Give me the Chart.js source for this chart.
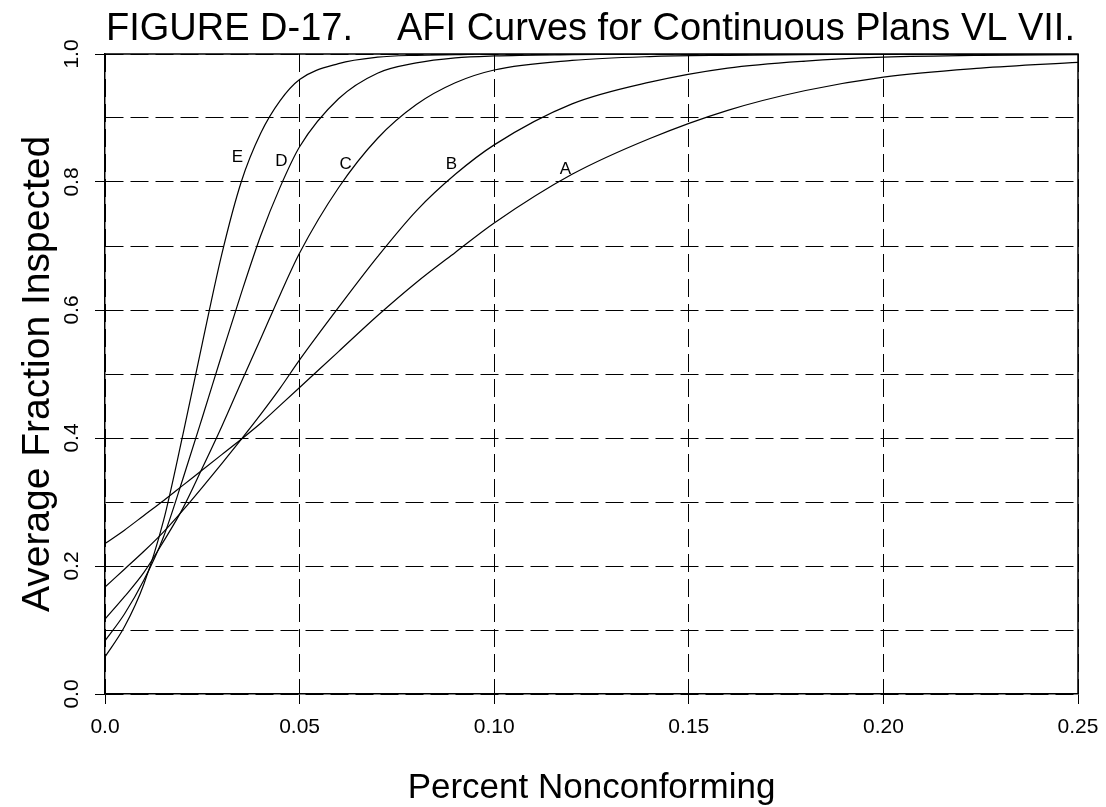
<!DOCTYPE html>
<html>
<head>
<meta charset="utf-8">
<script src="https://cdn.jsdelivr.net/npm/chart.js@4/dist/chart.umd.min.js"></script>
<style>
html,body{margin:0;padding:0;background:#fff;}
#wrap{width:1106px;height:807px;position:relative;}
</style>
</head>
<body>
<div id="wrap"><canvas id="c" width="1106" height="807"></canvas></div>
<script>
// ---- data ----
const xValues = [0, 0.005, 0.01, 0.015, 0.02, 0.025, 0.03, 0.035, 0.04, 0.045, 0.05, 0.06, 0.07, 0.08, 0.09, 0.10, 0.12, 0.14, 0.16, 0.18, 0.20, 0.225, 0.25];
const curveA = [0.235, 0.256, 0.279, 0.302, 0.326, 0.350, 0.374, 0.398, 0.423, 0.451, 0.479, 0.535, 0.591, 0.643, 0.690, 0.736, 0.812, 0.868, 0.912, 0.943, 0.964, 0.978, 0.987];
const curveB = [0.167, 0.195, 0.223, 0.253, 0.287, 0.323, 0.360, 0.398, 0.437, 0.478, 0.522, 0.604, 0.683, 0.755, 0.812, 0.858, 0.922, 0.956, 0.978, 0.989, 0.995, 0.998, 0.999];
const curveC = [0.117, 0.152, 0.190, 0.238, 0.290, 0.353, 0.418, 0.487, 0.555, 0.624, 0.689, 0.791, 0.868, 0.921, 0.955, 0.975, 0.990, 0.996, 0.998, 0.999, 1.0, 1.0, 1.0];
const curveD = [0.083, 0.125, 0.178, 0.245, 0.336, 0.432, 0.530, 0.626, 0.716, 0.792, 0.855, 0.930, 0.970, 0.986, 0.994, 0.997, 0.999, 1.0, 1.0, 1.0, 1.0, 1.0, 1.0];
const curveE = [0.058, 0.105, 0.172, 0.270, 0.405, 0.548, 0.687, 0.800, 0.876, 0.927, 0.960, 0.985, 0.995, 0.998, 0.999, 1.0, 1.0, 1.0, 1.0, 1.0, 1.0, 1.0, 1.0];
const curveNames = ['A', 'B', 'C', 'D', 'E'];
const labelX = [0.1183, 0.0890, 0.0618, 0.0453, 0.0340];
const labelY = [0.820, 0.828, 0.828, 0.833, 0.839];
const xTickValues = [0, 0.05, 0.10, 0.15, 0.20, 0.25];
const xTickLabels = ['0.0', '0.05', '0.10', '0.15', '0.20', '0.25'];
const yTickValues = [0, 0.2, 0.4, 0.6, 0.8, 1.0];
const yTickLabels = ['0.0', '0.2', '0.4', '0.6', '0.8', '1.0'];
const titleLeft = 'FIGURE D-17.';
const titleRight = 'AFI Curves for Continuous Plans VL VII.';
const xTitle = 'Percent Nonconforming';
const yTitle = 'Average Fraction Inspected';

const FONT = '"Liberation Sans", Arial, Helvetica, sans-serif';
const allCurves = [curveA, curveB, curveC, curveD, curveE];

const datasets = allCurves.map((arr, i) => ({
  label: curveNames[i],
  data: xValues.map((x, j) => ({x: x, y: arr[j]})),
  borderColor: '#000',
  borderWidth: 1.2,
  pointRadius: 0,
  fill: false,
  cubicInterpolationMode: 'monotone'
}));

const textPlugin = {
  id: 'texts',
  afterDraw(chart) {
    const ctx = chart.ctx;
    const xs = chart.scales.x, ys = chart.scales.y;
    const a = chart.chartArea;
    ctx.save();
    // solid frame top and right
    ctx.strokeStyle = '#000';
    ctx.lineWidth = 1.5;
    ctx.setLineDash([]);
    ctx.beginPath();
    ctx.moveTo(a.left, a.top); ctx.lineTo(a.right, a.top); ctx.lineTo(a.right, a.bottom);
    ctx.stroke();
    ctx.fillStyle = '#000';
    // title
    ctx.font = '38px ' + FONT;
    ctx.textAlign = 'left';
    ctx.textBaseline = 'alphabetic';
    ctx.fillText(titleLeft, 106, 40);
    ctx.fillText(titleRight, 397, 40);
    // x tick labels
    ctx.font = '21px ' + FONT;
    ctx.textAlign = 'center';
    ctx.textBaseline = 'middle';
    xTickValues.forEach((v, i) => ctx.fillText(xTickLabels[i], xs.getPixelForValue(v), 727));
    // y tick labels rotated
    yTickValues.forEach((v, i) => {
      ctx.save();
      ctx.translate(72, ys.getPixelForValue(v));
      ctx.rotate(-Math.PI / 2);
      ctx.fillText(yTickLabels[i], 0, 0);
      ctx.restore();
    });
    // axis titles
    ctx.font = '35px ' + FONT;
    ctx.textBaseline = 'alphabetic';
    ctx.fillText(xTitle, (a.left + a.right) / 2, 798);
    ctx.font = '39px ' + FONT;
    ctx.save();
    ctx.translate(49, (a.top + a.bottom) / 2);
    ctx.rotate(-Math.PI / 2);
    ctx.fillText(yTitle, 0, 0);
    ctx.restore();
    // curve letters
    ctx.font = '17px ' + FONT;
    ctx.textBaseline = 'middle';
    curveNames.forEach((n, i) => ctx.fillText(n, xs.getPixelForValue(labelX[i]), ys.getPixelForValue(labelY[i])));
    ctx.restore();
  }
};

new Chart(document.getElementById('c'), {
  type: 'line',
  data: {datasets},
  options: {
    responsive: false,
    animation: false,
    devicePixelRatio: 1,
    layout: {padding: {left: 95, right: 28, top: 54, bottom: 103}},
    plugins: {legend: {display: false}, tooltip: {enabled: false}, title: {display: false}},
    scales: {
      x: {
        type: 'linear', min: 0, max: 0.25,
        ticks: {display: false, stepSize: 0.05},
        grid: {color: '#000', lineWidth: 1, tickLength: 10, tickColor: '#000', drawTicks: true},
        border: {display: true, color: '#000', width: 1.5, dash: [18, 7]}
      },
      y: {
        type: 'linear', min: 0, max: 1.0,
        ticks: {display: false, stepSize: 0.1},
        grid: {
          color: '#000', lineWidth: 1, tickLength: 10, drawTicks: true,
          tickColor: (c) => (c.tick && Math.round(c.tick.value * 10) % 2 === 0) ? '#000' : 'rgba(0,0,0,0)'
        },
        border: {display: true, color: '#000', width: 1.5, dash: [18, 7]}
      }
    }
  },
  plugins: [textPlugin]
});
</script>
</body>
</html>
